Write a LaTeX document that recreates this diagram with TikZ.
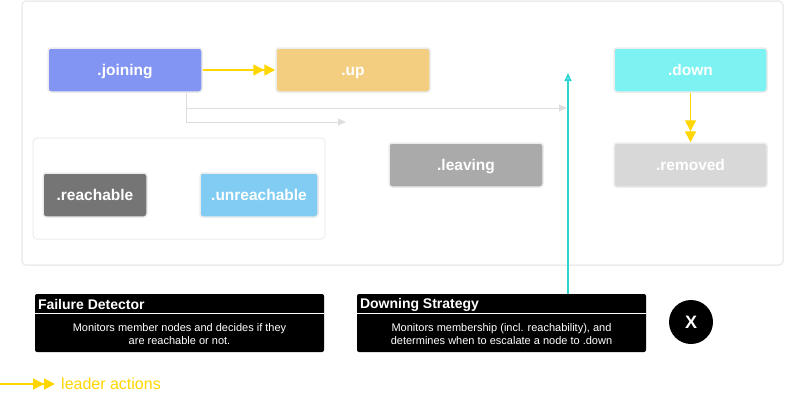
\documentclass[tikz,border=0pt]{standalone}
\usepackage{fontspec}
\setmainfont{Liberation Sans}
\usetikzlibrary{arrows.meta, calc}
\definecolor{stateJ}{RGB}{131,149,242}
\definecolor{stateU}{RGB}{243,206,128}
\definecolor{stateD}{RGB}{125,242,242}
\definecolor{stateR}{RGB}{216,216,216}
\definecolor{stateL}{RGB}{170,170,170}
\definecolor{stateReach}{RGB}{117,117,117}
\definecolor{stateUnreach}{RGB}{128,204,242}
\definecolor{leaderY}{RGB}{255,214,0}
\definecolor{downingC}{RGB}{44,213,213}
\definecolor{edgeG}{RGB}{221,221,221}
\definecolor{frameG}{RGB}{236,236,236}
\tikzstyle{state}=[rectangle, rounded corners=3pt, draw=frameG, line width=1.5pt, minimum height=44pt, text height=11pt, text depth=0pt, text=white, font=\fontsize{15.5}{17}\selectfont\bfseries]
\tikzstyle{panel}=[rectangle, rounded corners=2pt, fill=black, minimum width=289pt, minimum height=58pt]
\tikzstyle{leader}=[leaderY, line width=1.5pt, -{Triangle[length=11pt,width=11pt]Triangle[length=11pt,width=11pt]}]
\tikzstyle{plain}=[edgeG, line width=1pt, -{Triangle[length=8pt,width=7pt]}]

\begin{document}
\begin{tikzpicture}[x=1pt, y=-1pt]
				\useasboundingbox (0,0) rectangle (803,407);
				% Frame of the cluster and the reachability group
				\draw[frameG, line width=1.5pt, rounded corners=4pt] (22,1) rectangle (783,265);
				\draw[frameG, line width=1pt, rounded corners=4pt] (33,138) rectangle (325,239);

				% Member states
				\node[state, fill=stateJ, minimum width=154pt] (joining) at (125,70) {.joining};
				\node[state, fill=stateU, minimum width=154pt] (up) at (353,70) {.up};
				\node[state, fill=stateD, minimum width=153pt] (down) at (690.5,70) {.down};
				\node[state, fill=stateL, minimum width=154pt] (leaving) at (466,165) {.leaving};
				\node[state, fill=stateR, minimum width=153pt] (removed) at (690.5,165) {.removed};
				\node[state, fill=stateReach, minimum width=104pt] (reachable) at (95,195) {.reachable};
				\node[state, fill=stateUnreach, minimum width=118pt] (unreachable) at (259,195) {.unreachable};

				% Transitions
				\draw[leader] (joining) -- (up);
				\draw[leader] (down) -- (removed);
				\coordinate (toUp) at (346,122);
				\coordinate (toDown) at (567,108);
				\draw[plain] ([xshift=-16pt]joining.south east) |- (toUp);
				\draw[plain] ([xshift=-16pt]joining.south east |- toDown) -- (toDown);

				% Failure detector and downing strategy
				\node[panel] (fd) at (179.5,323) {};
				\node[panel] (ds) at (501.5,323) {};
				\foreach \p/\t in {fd/Failure Detector, ds/Downing Strategy}{
					\node[anchor=west, text=white, inner sep=0pt, font=\fontsize{14}{16}\selectfont\bfseries] at ([xshift=3pt, yshift=-11pt]\p.north west) {\t};
					\draw[white, line width=0.8pt] ([yshift=-20pt]\p.north west) -- ([yshift=-20pt]\p.north east);
				}
				\node[text=white, align=center, font=\fontsize{11}{13}\selectfont] at ([yshift=-11.5pt]fd.center) {Monitors member nodes and decides if they\\are reachable or not.};
				\node[text=white, align=center, font=\fontsize{11}{13}\selectfont] at ([yshift=-11.5pt]ds.center) {Monitors membership (incl. reachability), and\\determines when to escalate a node to .down};
				\coordinate (escalate) at (568,73);
				\draw[downingC, line width=1.8pt, -{Triangle[open, length=8pt, width=7pt]}] (ds.north -| escalate) -- (escalate);

				\node[circle, fill=black, minimum size=44pt, text=white, font=\fontsize{18}{20}\selectfont\bfseries] (exit) at (691,322) {X};

				% Legend
				\coordinate (lgStart) at (0,384);
				\node[anchor=west, text=leaderY, inner sep=0pt, font=\fontsize{16}{18}\selectfont] (lgText) at (61,384) {leader actions};
				\draw[leader] (lgStart) -- ([xshift=-6pt]lgText.west);
			\end{tikzpicture}
\end{document}
